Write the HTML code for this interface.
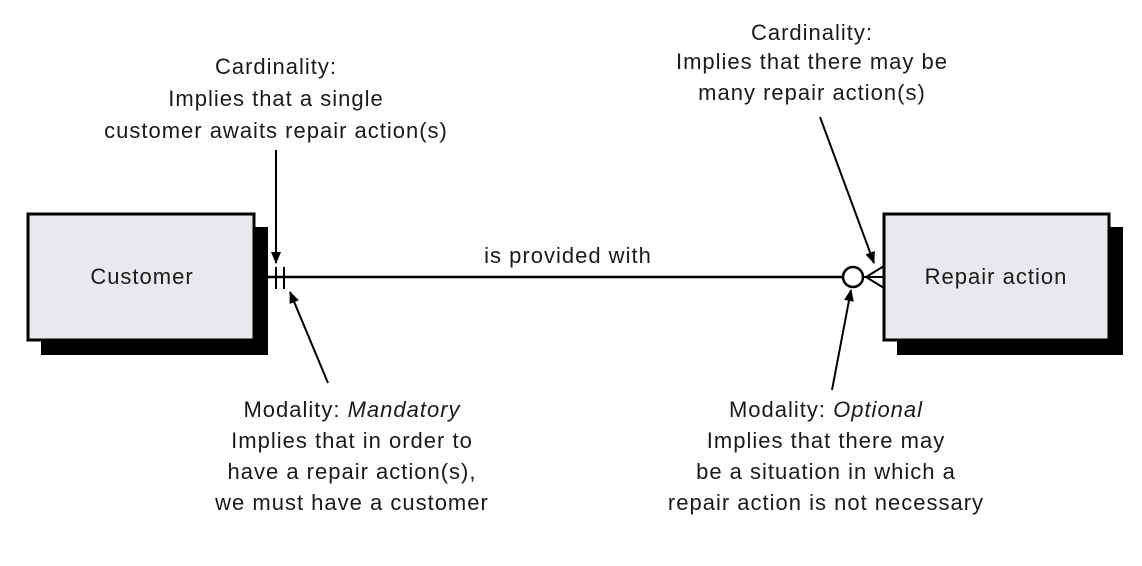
<!DOCTYPE html>
<html><head><style>
body{margin:0;background:#fff;}
svg{display:block;font-family:"Liberation Sans",sans-serif;}
text{font-size:22px;fill:#1a1a1a;text-anchor:middle;letter-spacing:1px;}
</style></head><body>
<svg width="1142" height="566" viewBox="0 0 1142 566">
<defs><marker id="a" markerWidth="12" markerHeight="12" refX="11" refY="5" orient="auto" markerUnits="userSpaceOnUse"><path d="M0,0 L12,5 L0,10 Z" fill="#000"/></marker></defs>
<rect x="41" y="227" width="227" height="128" fill="#000"/>
<rect x="28" y="214" width="226" height="126" fill="#e9e8ec" stroke="#000" stroke-width="3"/>
<text x="142" y="284">Customer</text>
<rect x="897" y="227" width="226" height="128" fill="#000"/>
<rect x="884" y="214" width="225" height="126" fill="#e9e8ec" stroke="#000" stroke-width="3"/>
<text x="996" y="284">Repair action</text>
<line x1="268" y1="277" x2="843" y2="277" stroke="#000" stroke-width="2.5"/>
<line x1="863" y1="277" x2="884" y2="277" stroke="#000" stroke-width="2"/>
<line x1="276" y1="267" x2="276" y2="289" stroke="#000" stroke-width="2"/>
<line x1="284" y1="267" x2="284" y2="289" stroke="#000" stroke-width="2"/>
<circle cx="853" cy="277" r="10" fill="none" stroke="#000" stroke-width="2.5"/>
<path d="M884,266 L866,277 L884,288" fill="none" stroke="#000" stroke-width="2"/>
<line x1="276" y1="150" x2="276" y2="263" stroke="#000" stroke-width="2" marker-end="url(#a)"/>
<line x1="328" y1="383" x2="290" y2="292" stroke="#000" stroke-width="2" marker-end="url(#a)"/>
<line x1="820" y1="117" x2="874" y2="263" stroke="#000" stroke-width="2" marker-end="url(#a)"/>
<line x1="832" y1="390" x2="851" y2="290" stroke="#000" stroke-width="2" marker-end="url(#a)"/>
<text x="568" y="263">is provided with</text>
<text x="276" y="74">Cardinality:</text>
<text x="276" y="106">Implies that a single</text>
<text x="276" y="138">customer awaits repair action(s)</text>
<text x="812" y="40">Cardinality:</text>
<text x="812" y="69">Implies that there may be</text>
<text x="812" y="100">many repair action(s)</text>
<text x="352" y="417">Modality: <tspan font-style="italic">Mandatory</tspan></text>
<text x="352" y="448">Implies that in order to</text>
<text x="352" y="479">have a repair action(s),</text>
<text x="352" y="510">we must have a customer</text>
<text x="826" y="417">Modality: <tspan font-style="italic">Optional</tspan></text>
<text x="826" y="448">Implies that there may</text>
<text x="826" y="479">be a situation in which a</text>
<text x="826" y="510">repair action is not necessary</text>
</svg>
</body></html>
